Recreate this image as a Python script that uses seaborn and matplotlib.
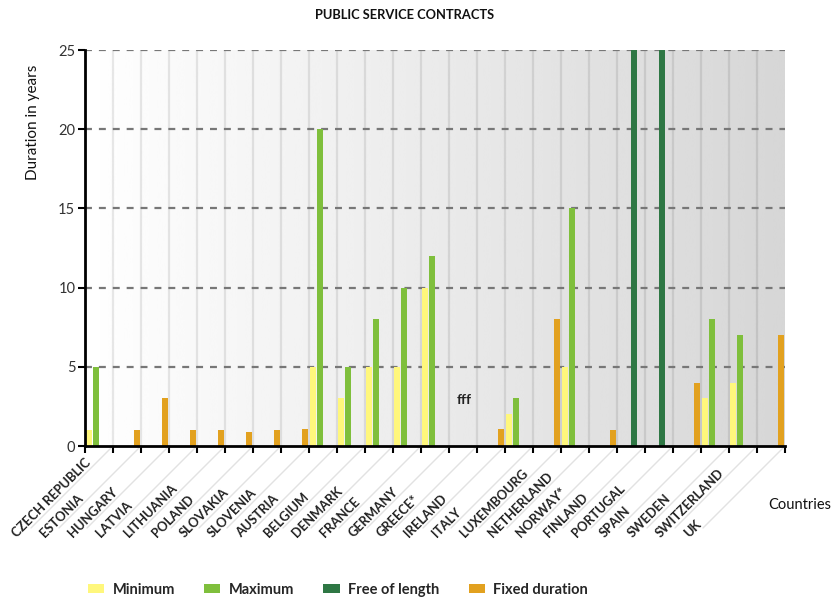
import numpy as np
import pandas as pd
import matplotlib
matplotlib.use("Agg")
import matplotlib.pyplot as plt
from matplotlib.patches import Patch
import seaborn as sns

# ---- data ----
countries = ["Czech Republic", "Estonia", "Hungary", "Latvia", "Lithuania", "Poland",
             "Slovakia", "Slovenia", "Austria", "Belgium", "Denmark", "France",
             "Germany", "Greece*", "Ireland", "Italy", "Luxembourg", "Netherland",
             "Norway*", "Finland", "Portugal", "Spain", "Sweden", "Switzerland", "UK"]
minimum  = [1, 0, 0, 0, 0, 0, 0, 0, 5, 3, 5, 5, 10, 0, 0, 2, 0, 5, 0, 0, 0, 0, 3, 4, 0]
maximum  = [5, 0, 0, 0, 0, 0, 0, 0, 20, 5, 8, 10, 12, 0, 0, 3, 0, 15, 0, 0, 0, 0, 8, 7, 0]
free_len = [0, 0, 0, 0, 0, 0, 0, 0, 0, 0, 0, 0, 0, 0, 0, 0, 0, 0, 0, 25, 25, 0, 0, 0, 0]
fixed    = [0, 1, 3, 1, 1, 0.9, 1, 1.1, 0, 0, 0, 0, 0, 0, 1.1, 0, 8, 0, 1, 0, 0, 4, 0, 0, 7]
series_names = ["Minimum", "Maximum", "Free of length", "Fixed duration"]
yticks = [0, 5, 10, 15, 20, 25]
title = "PUBLIC SERVICE CONTRACTS"
ylabel = "Duration in years"
xlabel = "Countries"
note_text = "fff"

colors = ["#fff77c", "#7fbf3c", "#2e7744", "#e2a11f"]

sns.set_style("white")
plt.rcParams["font.family"] = ["Lato", "DejaVu Sans"]
plt.rcParams["lines.scale_dashes"] = False

df = pd.DataFrame({"country": countries * 4,
                   "type": sum([[n] * len(countries) for n in series_names], []),
                   "value": minimum + maximum + free_len + fixed})

fig = plt.figure(figsize=(8.33, 6.03), dpi=100)
ax = fig.add_axes([85 / 833, 1 - 446 / 603, 700 / 833, 396 / 603])

# background gradient
grad = np.linspace(1.0, 0.84, 256)[None, :]
ax.imshow(grad, cmap="gray", vmin=0, vmax=1, extent=(-0.5, 24.5, 0, 25),
          aspect="auto", zorder=0, interpolation="bicubic")
for b in np.arange(0.5, 24.5, 1):
    ax.axvline(b, color="black", alpha=0.09, lw=1.6, zorder=0.5)
for yv in yticks[1:]:
    ax.axhline(yv, color="#777777", lw=1.6, ls=(0, (5.0, 5.0)), zorder=0.6)

sns.barplot(data=df, x="country", y="value", hue="type", order=countries,
            hue_order=series_names, palette=colors, saturation=1, width=0.92,
            gap=0.1, linewidth=0, ax=ax, legend=False, zorder=2)

ax.set_xlim(-0.5, 24.5)
ax.set_ylim(0, 25)
ax.set_xticks(np.arange(-0.5, 25, 1))
ax.set_xticklabels([])
ax.set_yticks(yticks)
ax.set_xlabel("")
ax.set_ylabel("")
ax.tick_params(axis="both", direction="out", length=5, width=1.5, color="black",
               bottom=True, left=True)
ax.tick_params(axis="y", labelsize=10.5, labelcolor="#333333", pad=2)
for s in ["top", "right"]:
    ax.spines[s].set_visible(False)
for s in ["left", "bottom"]:
    ax.spines[s].set_color("black")
    ax.spines[s].set_linewidth(2)
    ax.spines[s].set_zorder(5)

# rotated category labels with guide lines
for i, c in enumerate(countries):
    ax.annotate("", xy=(i + 0.5, 0), xytext=(-82, -82), textcoords="offset pixels",
                xycoords="data", annotation_clip=False,
                arrowprops=dict(arrowstyle="-", color="#e2e2e2", lw=1,
                                shrinkA=0, shrinkB=0))
    ax.annotate(c.upper(), xy=(i + 0.5, 0), xytext=(-96, -92),
                textcoords="offset pixels", rotation=45, rotation_mode="anchor",
                ha="left", va="baseline", fontsize=9.3, fontweight="bold",
                color="#222222", annotation_clip=False)

ax.text(13.05, 2.9, note_text, ha="center", va="center", fontsize=10,
        fontweight="bold", color="#222222", zorder=6)

fig.text(405 / 833, 1 - 15 / 603, title, ha="center", va="center",
         fontsize=9.3, fontweight="bold", color="#111111")
fig.text(33 / 833, 1 - 122 / 603, ylabel, ha="center", va="center",
         rotation=90, fontsize=11, color="#111111")
fig.text(768 / 833, 1 - 505 / 603, xlabel, ha="left", va="center",
         fontsize=10.5, color="#111111")

handles = [Patch(facecolor=c, edgecolor="none") for c in colors]
fig.legend(handles, series_names, loc="center", ncol=4, frameon=False,
           bbox_to_anchor=(338 / 833, 1 - 590 / 603),
           prop=dict(size=10.5, weight="bold"), handlelength=1.1,
           handleheight=0.55, handletextpad=0.6, columnspacing=2.0)

fig.savefig("out.png", dpi=100)
